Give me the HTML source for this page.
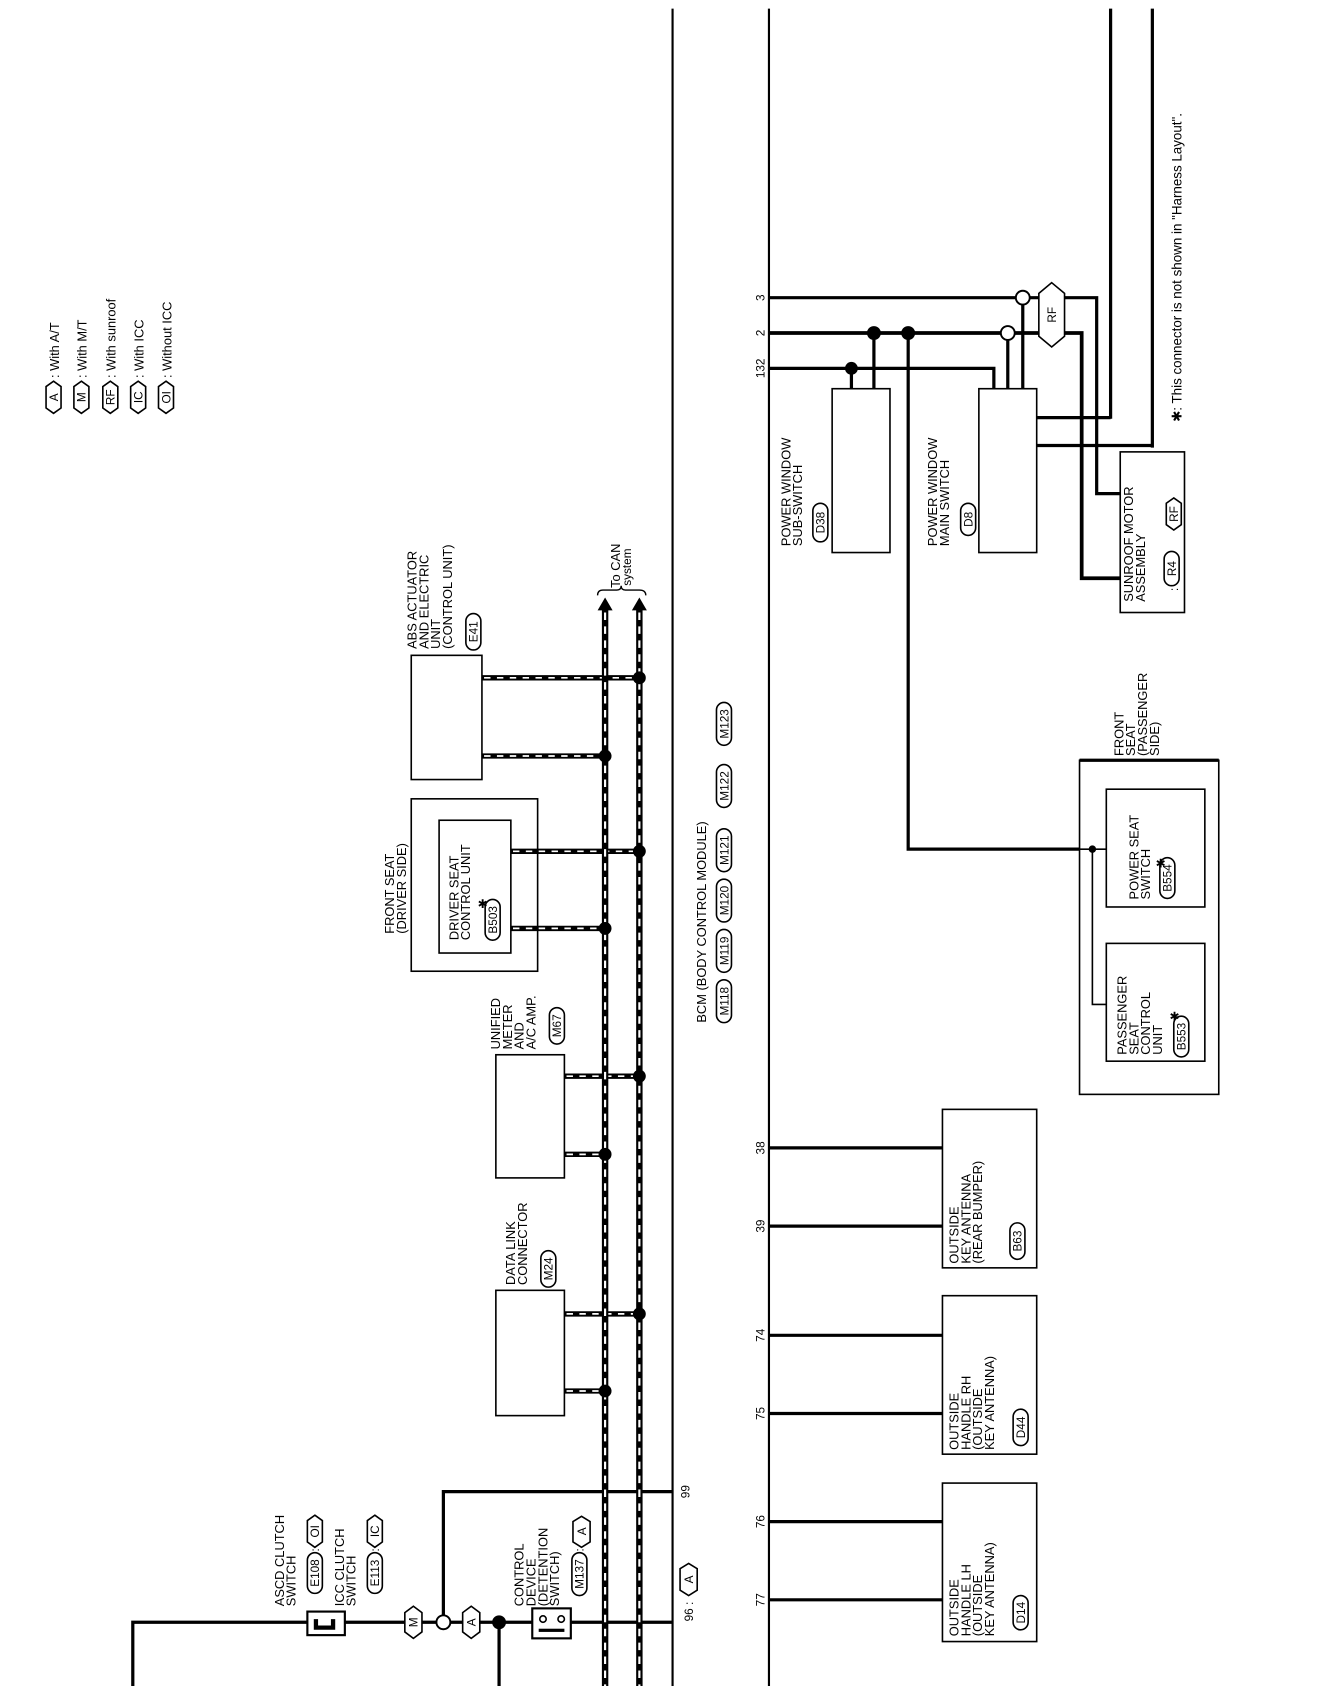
<!DOCTYPE html>
<html><head><meta charset="utf-8"><style>
html,body{margin:0;padding:0;background:#fff;}
svg{display:block;}
text{font-family:"Liberation Sans",sans-serif;font-size:12px;fill:#000;}
.s{font-size:11px;}
</style></head><body>
<svg width="1328" height="1686" viewBox="0 0 1240 1574.5" preserveAspectRatio="none" xmlns="http://www.w3.org/2000/svg">
<rect x="0" y="0" width="1240" height="1575" fill="#fff"/>
<g fill="none" stroke="#000">
<line x1="628" y1="8" x2="628" y2="1575" stroke-width="2"/>
<line x1="718" y1="8" x2="718" y2="1575" stroke-width="2"/>
<line x1="1037" y1="8" x2="1037" y2="391" stroke-width="3"/>
<line x1="1076" y1="8" x2="1076" y2="418" stroke-width="3"/>
<polyline points="968,390 1037,390" stroke-width="3"/>
<polyline points="968,416 1076,416" stroke-width="3"/>
<polyline points="718,278 1024,278 1024,461 1046,461" stroke-width="3"/>
<polyline points="718,311 1010,311 1010,540 1046,540" stroke-width="3.5"/>
<polyline points="718,344 928,344 928,363" stroke-width="3"/>
<line x1="795" y1="344" x2="795" y2="363" stroke-width="3"/>
<line x1="816" y1="311" x2="816" y2="363" stroke-width="3"/>
<line x1="941" y1="311" x2="941" y2="363" stroke-width="3"/>
<line x1="955" y1="278" x2="955" y2="363" stroke-width="3"/>
<polyline points="848,311 848,793 1008,793" stroke-width="3"/>
<line x1="1008" y1="793" x2="1033" y2="793" stroke-width="1.5"/>
<polyline points="1020,793 1020,938 1033,938" stroke-width="1.5"/>
<rect x="777" y="363" width="54" height="153" stroke-width="1.5"/>
<rect x="914" y="363" width="54" height="153" stroke-width="1.5"/>
<rect x="1046" y="422" width="60" height="150" stroke-width="1.5"/>
<rect x="1008" y="710" width="130" height="312" stroke-width="1.5"/>
<line x1="1008" y1="710" x2="1138" y2="710" stroke-width="3"/>
<rect x="1033" y="737" width="92" height="110" stroke-width="1.5"/>
<rect x="1033" y="881" width="92" height="110" stroke-width="1.5"/>
<line x1="718" y1="1072" x2="880" y2="1072" stroke-width="3"/>
<line x1="718" y1="1145" x2="880" y2="1145" stroke-width="3"/>
<line x1="718" y1="1247" x2="880" y2="1247" stroke-width="3"/>
<line x1="718" y1="1320" x2="880" y2="1320" stroke-width="3"/>
<line x1="718" y1="1421" x2="880" y2="1421" stroke-width="3"/>
<line x1="718" y1="1494" x2="880" y2="1494" stroke-width="3"/>
<rect x="880" y="1036" width="88" height="148" stroke-width="1.5"/>
<rect x="880" y="1210" width="88" height="148" stroke-width="1.5"/>
<rect x="880" y="1385" width="88" height="148" stroke-width="1.5"/>
<rect x="384" y="612" width="66" height="116" stroke-width="1.5"/>
<rect x="384" y="746" width="118" height="161" stroke-width="1.5"/>
<rect x="410" y="766" width="67" height="124" stroke-width="1.5"/>
<rect x="463" y="985" width="64" height="115" stroke-width="1.5"/>
<rect x="463" y="1205" width="64" height="117" stroke-width="1.5"/>
<polyline points="124,1575 124,1515 628,1515" stroke-width="3"/>
<polyline points="414,1515 414,1393 628,1393" stroke-width="3"/>
<line x1="466" y1="1515" x2="466" y2="1575" stroke-width="3"/>
</g>
<g>
<g stroke="#000" stroke-width="5">
<line x1="450" y1="633" x2="597" y2="633"/><line x1="450" y1="706" x2="565" y2="706"/>
<line x1="477" y1="795" x2="597" y2="795"/><line x1="477" y1="867" x2="565" y2="867"/>
<line x1="527" y1="1005" x2="597" y2="1005"/><line x1="527" y1="1078" x2="565" y2="1078"/>
<line x1="527" y1="1227" x2="597" y2="1227"/><line x1="527" y1="1299" x2="565" y2="1299"/>
</g>
<g stroke="#fff" stroke-width="1.6" stroke-dasharray="6 6">
<line x1="452" y1="633" x2="592" y2="633"/><line x1="452" y1="706" x2="560" y2="706"/>
<line x1="479" y1="795" x2="592" y2="795"/><line x1="479" y1="867" x2="560" y2="867"/>
<line x1="529" y1="1005" x2="592" y2="1005"/><line x1="529" y1="1078" x2="560" y2="1078"/>
<line x1="529" y1="1227" x2="592" y2="1227"/><line x1="529" y1="1299" x2="560" y2="1299"/>
</g>
<line x1="565" y1="566" x2="565" y2="1575" stroke="#000" stroke-width="6"/>
<line x1="597" y1="566" x2="597" y2="1575" stroke="#000" stroke-width="6"/>
<line x1="565" y1="572" x2="565" y2="1575" stroke="#fff" stroke-width="2" stroke-dasharray="7 6"/>
<line x1="597" y1="572" x2="597" y2="1575" stroke="#fff" stroke-width="2" stroke-dasharray="7 6"/>
<polygon points="565,558 558,570 572,570"/><polygon points="597,558 590,570 604,570"/>
<path d="M558,556 Q558,551 563,551 L576,551 Q580,551 580,547 Q580,551 584,551 L597,551 Q603,551 603,556" fill="none" stroke="#000" stroke-width="1.3"/>
</g>
<g fill="#000">
<circle cx="597" cy="633" r="6"/><circle cx="565" cy="706" r="6"/>
<circle cx="597" cy="795" r="6"/><circle cx="565" cy="867" r="6"/>
<circle cx="597" cy="1005" r="6"/><circle cx="565" cy="1078" r="6"/>
<circle cx="597" cy="1227" r="6"/><circle cx="565" cy="1299" r="6"/>
<circle cx="795" cy="344" r="6"/><circle cx="816" cy="311" r="6.5"/><circle cx="848" cy="311" r="6.5"/>
<circle cx="1020" cy="793" r="3.5"/><circle cx="466" cy="1515" r="6.5"/>
</g>
<g fill="#fff" stroke="#000" stroke-width="1.8">
<circle cx="955" cy="278" r="6.5"/><circle cx="941" cy="311" r="6.5"/><circle cx="414" cy="1515" r="6.5"/>
</g>
<rect x="287" y="1505" width="35" height="22" fill="#fff" stroke="#000" stroke-width="2"/>
<path d="M293,1512 h4 v6 h12 v-6 h4 v10 h-20z" fill="#000"/>
<rect x="497" y="1502" width="36" height="28" fill="#fff" stroke="#000" stroke-width="2"/>
<circle cx="507" cy="1512" r="3" fill="#fff" stroke="#000" stroke-width="1.5"/>
<circle cx="524" cy="1512" r="3" fill="#fff" stroke="#000" stroke-width="1.5"/>
<rect x="503" y="1521" width="24" height="3" fill="#000"/>
<g fill="#fff" stroke="#000" stroke-width="1.5">
<polygon points="50,356 57,361 57,381 50,386 43,381 43,361"/>
<polygon points="76,356 83,361 83,381 76,386 69,381 69,361"/>
<polygon points="103,356 110,361 110,381 103,386 96,381 96,361"/>
<polygon points="129,356 136,361 136,381 129,386 122,381 122,361"/>
<polygon points="155,356 162,361 162,381 155,386 148,381 148,361"/>
<polygon points="982,264 994,274 994,314 982,324 970,314 970,274"/>
<polygon points="1096,465 1103,470 1103,490 1096,495 1089,490 1089,470"/>
<polygon points="386,1500 394,1506 394,1524 386,1530 378,1524 378,1506"/>
<polygon points="440,1500 448,1506 448,1524 440,1530 432,1524 432,1506"/>
<polygon points="294,1415 301,1420 301,1440 294,1445 287,1440 287,1420"/>
<polygon points="350,1415 357,1420 357,1440 350,1445 343,1440 343,1420"/>
<polygon points="543,1416 551,1421 551,1440 543,1445 535,1440 535,1421"/>
<polygon points="643,1460 651,1465 651,1485 643,1490 635,1485 635,1465"/>
</g>
<g fill="#fff" stroke="#000" stroke-width="1.5">
<rect x="759" y="470" width="14" height="36" rx="7"/>
<rect x="897" y="470" width="14" height="30" rx="7"/>
<rect x="1087" y="515" width="14" height="32" rx="7"/>
<rect x="435" y="573" width="14" height="34" rx="7"/>
<rect x="453" y="840" width="14" height="38" rx="7"/>
<rect x="513" y="941" width="14" height="34" rx="7"/>
<rect x="505" y="1168" width="14" height="34" rx="7"/>
<rect x="1083" y="801" width="14" height="38" rx="7"/>
<rect x="1096" y="949" width="14" height="38" rx="7"/>
<rect x="943" y="1142" width="14" height="34" rx="7"/>
<rect x="946" y="1316" width="14" height="34" rx="7"/>
<rect x="946" y="1490" width="14" height="32" rx="7"/>
<rect x="287" y="1450" width="14" height="38" rx="7"/>
<rect x="343" y="1450" width="14" height="38" rx="7"/>
<rect x="534" y="1450" width="14" height="40" rx="7"/>
<rect x="669" y="915" width="14" height="40" rx="7"/>
<rect x="669" y="868" width="14" height="40" rx="7"/>
<rect x="669" y="821" width="14" height="40" rx="7"/>
<rect x="669" y="774" width="14" height="40" rx="7"/>
<rect x="669" y="714" width="14" height="40" rx="7"/>
<rect x="669" y="656" width="14" height="40" rx="7"/>
</g>
<g class="s" text-anchor="middle">
<text class="s" transform="translate(54,371) rotate(-90)">A</text>
<text class="s" transform="translate(80,371) rotate(-90)">M</text>
<text class="s" transform="translate(107,371) rotate(-90)">RF</text>
<text class="s" transform="translate(133,371) rotate(-90)">IC</text>
<text class="s" transform="translate(159,371) rotate(-90)">OI</text>
<text class="s" transform="translate(986,294) rotate(-90)">RF</text>
<text class="s" transform="translate(1100,480) rotate(-90)">RF</text>
<text class="s" transform="translate(390,1515) rotate(-90)">M</text>
<text class="s" transform="translate(444,1515) rotate(-90)">A</text>
<text class="s" transform="translate(298,1430) rotate(-90)">OI</text>
<text class="s" transform="translate(354,1430) rotate(-90)">IC</text>
<text class="s" transform="translate(547,1430) rotate(-90)">A</text>
<text class="s" transform="translate(647,1475) rotate(-90)">A</text>
<text class="s" transform="translate(770,488) rotate(-90)">D38</text>
<text class="s" transform="translate(908,485) rotate(-90)">D8</text>
<text class="s" transform="translate(1098,531) rotate(-90)">R4</text>
<text class="s" transform="translate(446,590) rotate(-90)">E41</text>
<text class="s" transform="translate(464,859) rotate(-90)">B503</text>
<text class="s" transform="translate(524,958) rotate(-90)">M67</text>
<text class="s" transform="translate(516,1185) rotate(-90)">M24</text>
<text class="s" transform="translate(1094,820) rotate(-90)">B554</text>
<text class="s" transform="translate(1107,968) rotate(-90)">B553</text>
<text class="s" transform="translate(954,1159) rotate(-90)">B63</text>
<text class="s" transform="translate(957,1333) rotate(-90)">D44</text>
<text class="s" transform="translate(957,1506) rotate(-90)">D14</text>
<text class="s" transform="translate(298,1469) rotate(-90)">E108</text>
<text class="s" transform="translate(354,1469) rotate(-90)">E113</text>
<text class="s" transform="translate(545,1470) rotate(-90)">M137</text>
<text class="s" transform="translate(680,935) rotate(-90)">M118</text>
<text class="s" transform="translate(680,888) rotate(-90)">M119</text>
<text class="s" transform="translate(680,841) rotate(-90)">M120</text>
<text class="s" transform="translate(680,794) rotate(-90)">M121</text>
<text class="s" transform="translate(680,734) rotate(-90)">M122</text>
<text class="s" transform="translate(680,676) rotate(-90)">M123</text>
</g>
<text transform="translate(55,353) rotate(-90)" style="font-size:12px">: With A/T</text>
<text transform="translate(81,353) rotate(-90)" style="font-size:12px">: With M/T</text>
<text transform="translate(108,353) rotate(-90)" style="font-size:12px">: With sunroof</text>
<text transform="translate(134,353) rotate(-90)" style="font-size:12px">: With ICC</text>
<text transform="translate(160,353) rotate(-90)" style="font-size:12px">: Without ICC</text>
<text transform="translate(1103,394) rotate(-90)" style="font-size:12.5px">✱: This connector is not shown in "Harness Layout".</text>
<text x="446" y="848" class="s">✱</text>
<text x="1079" y="810" class="s">✱</text>
<text x="1092" y="953" class="s">✱</text>
<text transform="translate(738,510) rotate(-90)"><tspan x="0">POWER WINDOW</tspan><tspan x="0" dy="11">SUB-SWITCH</tspan></text>
<text transform="translate(875,510) rotate(-90)"><tspan x="0">POWER WINDOW</tspan><tspan x="0" dy="11">MAIN SWITCH</tspan></text>
<text transform="translate(1058,562) rotate(-90)"><tspan x="0">SUNROOF MOTOR</tspan><tspan x="0" dy="11">ASSEMBLY</tspan></text>
<text transform="translate(1100,552) rotate(-90)" class="s">:</text>
<text transform="translate(389,606) rotate(-90)"><tspan x="0">ABS ACTUATOR</tspan><tspan x="0" dy="11">AND ELECTRIC</tspan><tspan x="0" dy="11">UNIT</tspan><tspan x="0" dy="11">(CONTROL UNIT)</tspan></text>
<text transform="translate(579,549) rotate(-90)"><tspan x="0">To CAN</tspan><tspan x="2" dy="10" class="s">system</tspan></text>
<text transform="translate(368,872) rotate(-90)"><tspan x="0">FRONT SEAT</tspan><tspan x="0" dy="11">(DRIVER SIDE)</tspan></text>
<text transform="translate(428,878) rotate(-90)"><tspan x="0">DRIVER SEAT</tspan><tspan x="0" dy="11">CONTROL UNIT</tspan></text>
<text transform="translate(467,980) rotate(-90)"><tspan x="0">UNIFIED</tspan><tspan x="0" dy="11">METER</tspan><tspan x="0" dy="11">AND</tspan><tspan x="0" dy="11">A/C AMP.</tspan></text>
<text transform="translate(481,1200) rotate(-90)"><tspan x="0">DATA LINK</tspan><tspan x="0" dy="11">CONNECTOR</tspan></text>
<text transform="translate(659,955) rotate(-90)">BCM (BODY CONTROL MODULE)</text>
<text transform="translate(1049,706) rotate(-90)"><tspan x="0">FRONT</tspan><tspan x="0" dy="11">SEAT</tspan><tspan x="0" dy="11">(PASSENGER</tspan><tspan x="0" dy="11">SIDE)</tspan></text>
<text transform="translate(1063,840) rotate(-90)"><tspan x="0">POWER SEAT</tspan><tspan x="0" dy="11">SWITCH</tspan></text>
<text transform="translate(1052,985) rotate(-90)"><tspan x="0">PASSENGER</tspan><tspan x="0" dy="11">SEAT</tspan><tspan x="0" dy="11">CONTROL</tspan><tspan x="0" dy="11">UNIT</tspan></text>
<text transform="translate(895,1180) rotate(-90)"><tspan x="0">OUTSIDE</tspan><tspan x="0" dy="11">KEY ANTENNA</tspan><tspan x="0" dy="11">(REAR BUMPER)</tspan></text>
<text transform="translate(895,1354) rotate(-90)"><tspan x="0">OUTSIDE</tspan><tspan x="0" dy="11">HANDLE RH</tspan><tspan x="0" dy="11">(OUTSIDE</tspan><tspan x="0" dy="11">KEY ANTENNA)</tspan></text>
<text transform="translate(895,1528) rotate(-90)"><tspan x="0">OUTSIDE</tspan><tspan x="0" dy="11">HANDLE LH</tspan><tspan x="0" dy="11">(OUTSIDE</tspan><tspan x="0" dy="11">KEY ANTENNA)</tspan></text>
<text transform="translate(265,1500) rotate(-90)"><tspan x="0">ASCD CLUTCH</tspan><tspan x="0" dy="11">SWITCH</tspan></text>
<text transform="translate(321,1500) rotate(-90)"><tspan x="0">ICC CLUTCH</tspan><tspan x="0" dy="11">SWITCH</tspan></text>
<text transform="translate(298,1449) rotate(-90)" class="s">:</text>
<text transform="translate(354,1449) rotate(-90)" class="s">:</text>
<text transform="translate(545,1449) rotate(-90)" class="s">:</text>
<text transform="translate(489,1500) rotate(-90)"><tspan x="0">CONTROL</tspan><tspan x="0" dy="11">DEVICE</tspan><tspan x="0" dy="11">(DETENTION</tspan><tspan x="0" dy="11">SWITCH)</tspan></text>
<g text-anchor="middle">
<text class="s" transform="translate(714,278) rotate(-90)">3</text>
<text class="s" transform="translate(714,311) rotate(-90)">2</text>
<text class="s" transform="translate(714,344) rotate(-90)">132</text>
<text class="s" transform="translate(714,1072) rotate(-90)">38</text>
<text class="s" transform="translate(714,1145) rotate(-90)">39</text>
<text class="s" transform="translate(714,1247) rotate(-90)">74</text>
<text class="s" transform="translate(714,1320) rotate(-90)">75</text>
<text class="s" transform="translate(714,1421) rotate(-90)">76</text>
<text class="s" transform="translate(714,1494) rotate(-90)">77</text>
<text class="s" transform="translate(644,1393) rotate(-90)">99</text>
<text class="s" transform="translate(647,1505) rotate(-90)">96 :</text>
</g>
</svg>
</body></html>
